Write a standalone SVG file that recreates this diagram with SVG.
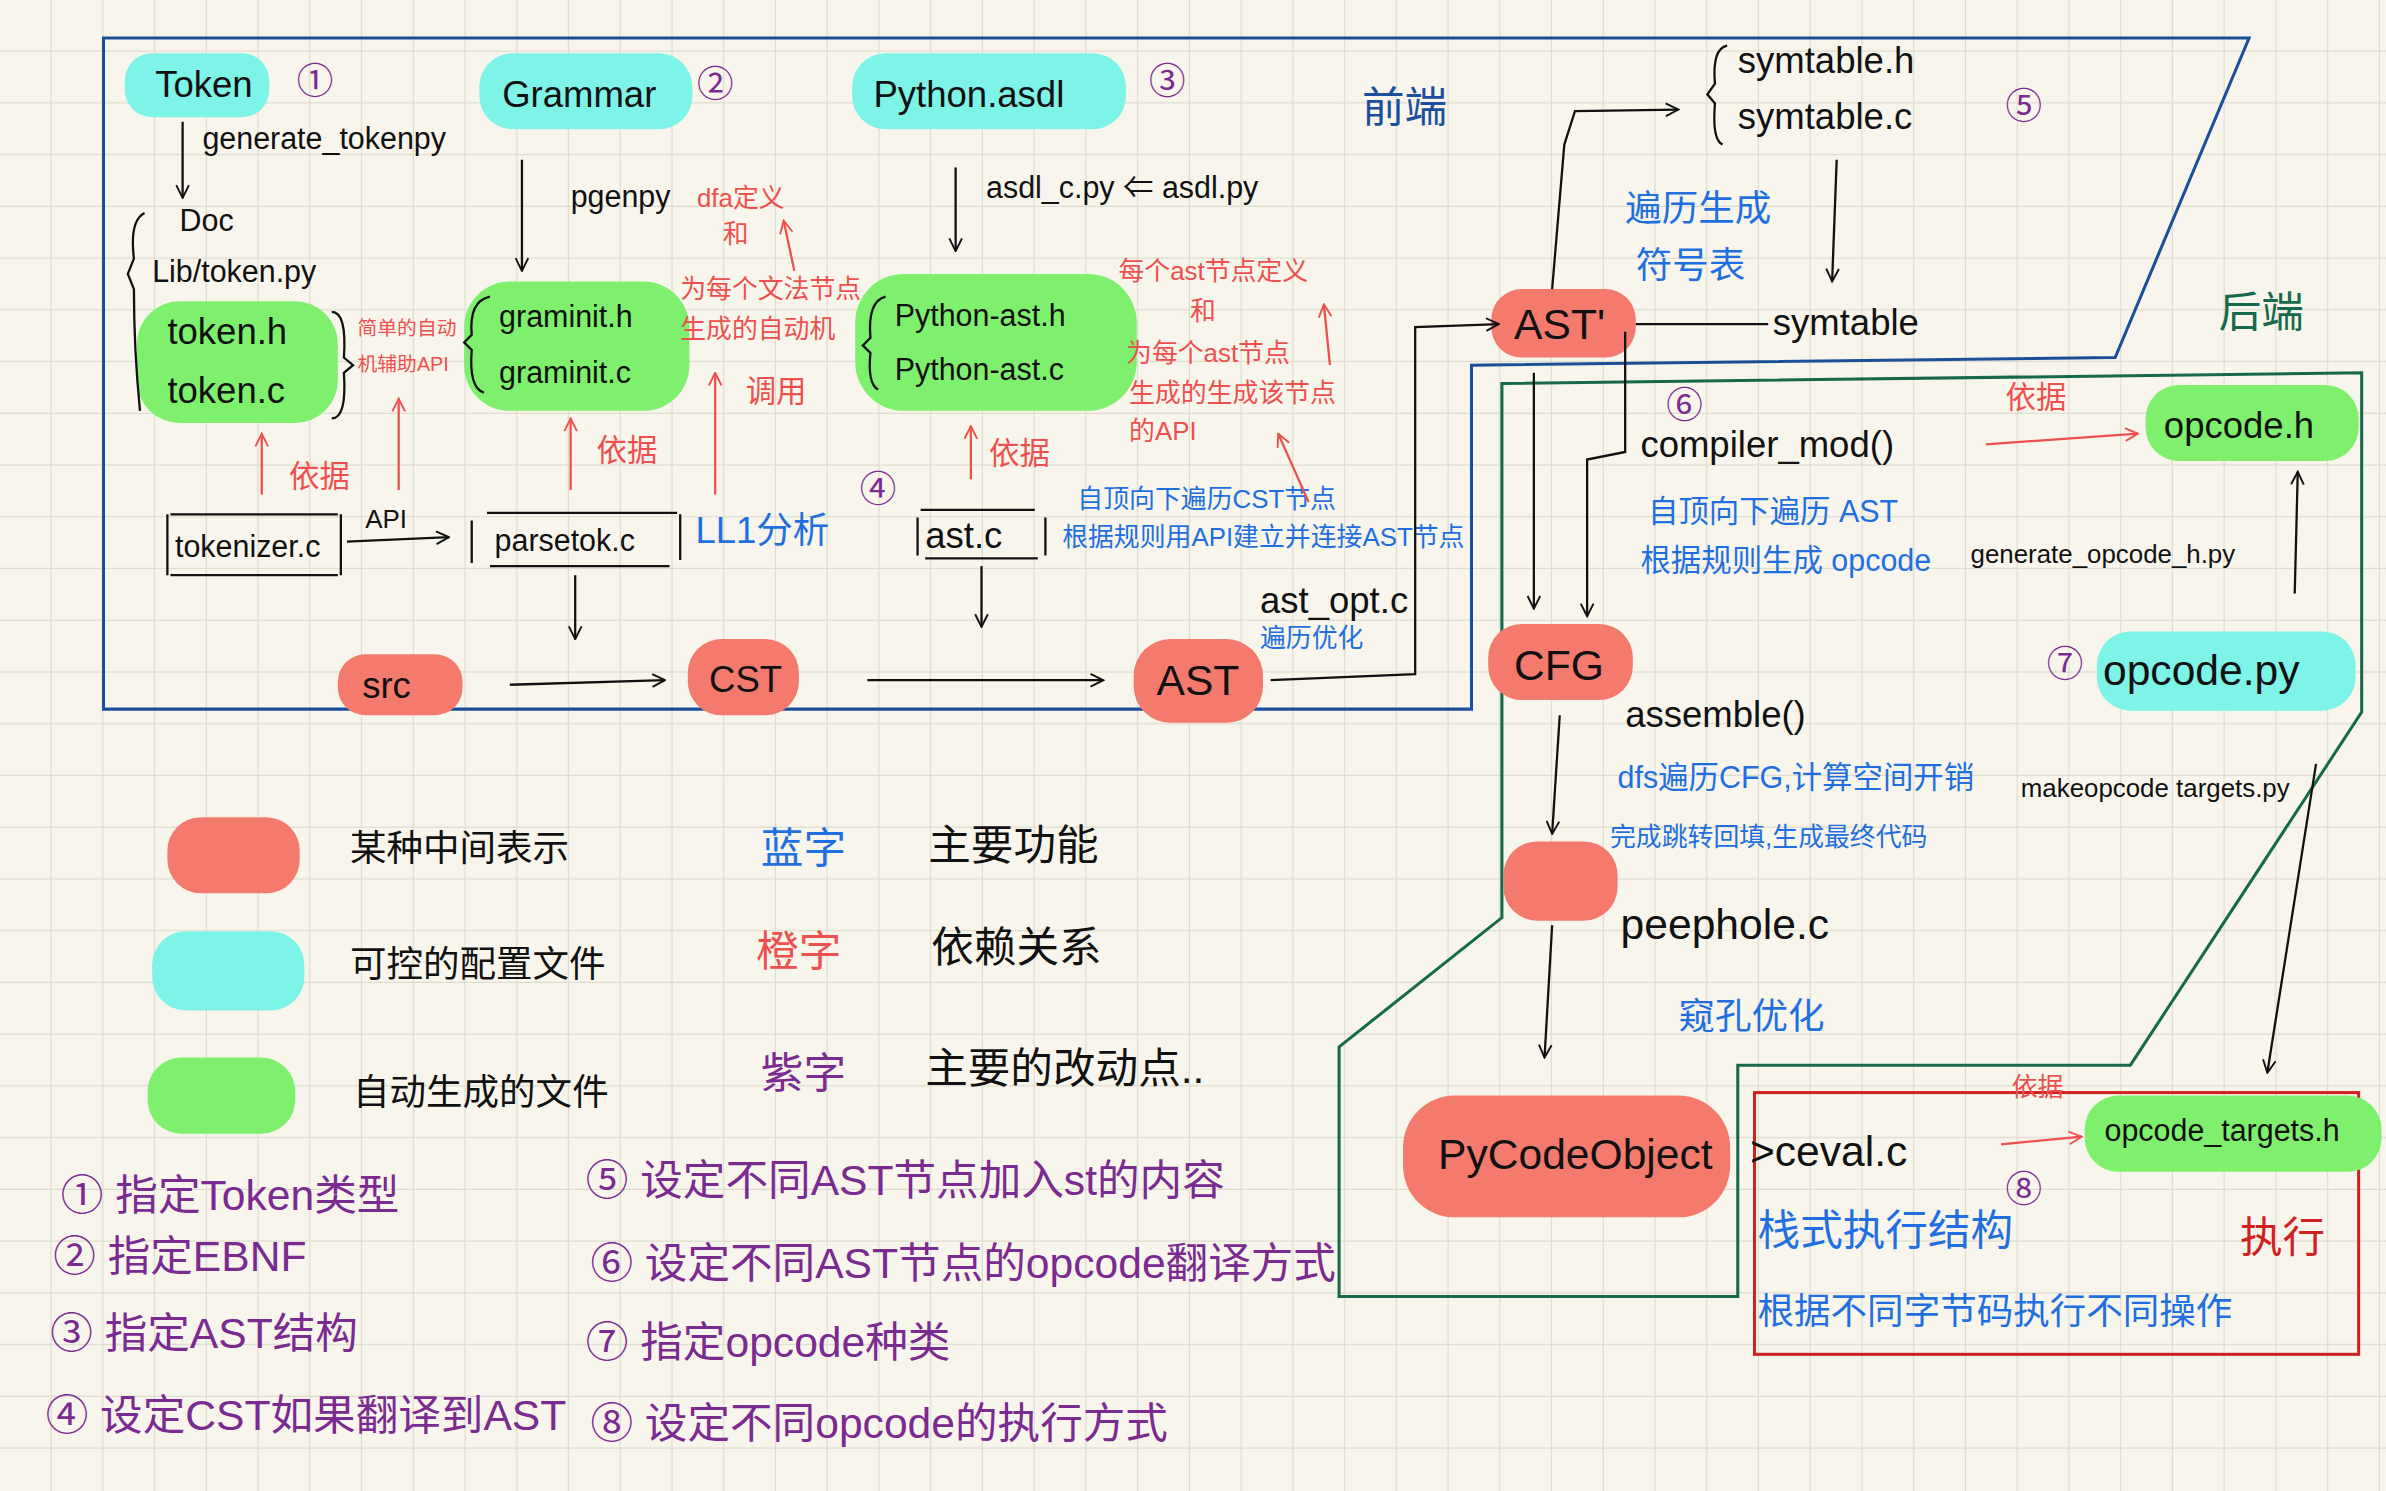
<svg xmlns="http://www.w3.org/2000/svg" width="2386" height="1491" viewBox="0 0 2386 1491">
<defs>
<pattern id="grid" width="34" height="34" patternUnits="userSpaceOnUse"><path d="M34 0V34H0" fill="none" stroke="#dedbd0" stroke-width="1.6"/></pattern>
<marker id="a" viewBox="0 0 12 12" refX="11" refY="6" markerWidth="10" markerHeight="10" orient="auto" markerUnits="userSpaceOnUse"><path d="M1 1L11 6L1 11" fill="none" stroke="#111" stroke-width="1.5"/></marker>
<marker id="r" viewBox="0 0 12 12" refX="11" refY="6" markerWidth="10" markerHeight="10" orient="auto" markerUnits="userSpaceOnUse"><path d="M1 1L11 6L1 11" fill="none" stroke="#ee5050" stroke-width="1.5"/></marker>
</defs>
<style>
text{font-family:"Liberation Sans","Noto Sans CJK SC",sans-serif;font-size:24px;fill:#111}
.x{font-size:13px}.s{font-size:17px}.m{font-size:20px}.l{font-size:28px}
.b{fill:#1f6fe0}.o{fill:#ee5050}.p{fill:#7a2a90}
.red{fill:#f47a6e}.cy{fill:#7ef3e8}.gr{fill:#7ef06e}
.ln{fill:none;stroke:#111;stroke-width:1.5}
.rl{fill:none;stroke:#ee5050;stroke-width:1.5}
</style>
<rect width="2386" height="1491" fill="#f8f6ec"/>
<g transform="scale(1.5217)">
<rect width="1568" height="980" fill="url(#grid)"/>
<g id="regions" fill="none" stroke-width="2">
<path d="M68 25H1478L1390 235L967 240V466H68Z" stroke="#1a4f9c"/>
<path d="M987 252L1552 245V468L1400 700H1142V852H880V688L987 603Z" stroke="#16694a"/>
<rect x="1153" y="718" width="397" height="172" stroke="#d02020"/>
<text x="895" y="80" class="l" style="fill:#1a4f9c">前端</text>
<text x="1458" y="215" class="l" style="fill:#16694a">后端</text>
</g>
<g id="n-token"><rect x="82" y="35" width="95" height="42" rx="18" class="cy"/><text x="102" y="64">Token</text><text x="195" y="62" class="p">①</text></g>
<g id="n-grammar"><rect x="315" y="35" width="140" height="50" rx="22" class="cy"/><text x="330" y="70">Grammar</text><text x="458" y="64" class="p">②</text></g>
<g id="n-asdl"><rect x="560" y="35" width="180" height="50" rx="22" class="cy"/><text x="574" y="70">Python.asdl</text><text x="755" y="62" class="p">③</text></g>
<g id="n-tokenh"><rect x="90" y="198" width="132" height="80" rx="28" class="gr"/><text x="110" y="226">token.h</text><text x="110" y="265">token.c</text><path d="M218 205Q228 205 226 235L232 240L226 245Q228 275 218 275" class="ln"/><path d="M95 140Q85 145 88 170L84 180L88 190Q88 230 92 270" class="ln"/><text x="118" y="152" class="m">Doc</text><text x="100" y="185" class="m">Lib/token.py</text><text x="133" y="98" class="m">generate_tokenpy</text>
<text x="235" y="220" class="x o">简单的自动</text><text x="235" y="244" class="x o">机辅助API</text></g>
<g id="n-graminit"><rect x="305" y="185" width="148" height="85" rx="30" class="gr"/><text x="328" y="215" class="m">graminit.h</text><text x="328" y="252" class="m">graminit.c</text><path d="M322 195Q308 198 310 220L305 225L310 230Q308 255 318 258" class="ln"/>
<text x="375" y="136" class="m">pgenpy</text><text x="458" y="136" class="s o">dfa定义</text><text x="475" y="160" class="s o">和</text><text x="447" y="196" class="s o">为每个文法节点</text><text x="447" y="222" class="s o">生成的自动机</text><text x="490" y="264" class="m o">调用</text></g>
<g id="n-pyast"><rect x="562" y="180" width="185" height="90" rx="32" class="gr"/><text x="588" y="214" class="m">Python-ast.h</text><text x="588" y="250" class="m">Python-ast.c</text><path d="M582 195Q570 198 572 222L567 227L572 232Q570 252 577 256" class="ln"/>
<text x="648" y="130" class="m">asdl_c.py ⇐ asdl.py</text>
<text x="735" y="184" class="s o">每个ast节点定义</text><text x="782" y="210" class="s o">和</text><text x="740" y="238" class="s o">为每个ast节点</text><text x="742" y="264" class="s o">生成的生成该节点</text><text x="742" y="289" class="s o">的API</text>
<text x="565" y="330" class="p">④</text><text x="708" y="334" class="s b">自顶向下遍历CST节点</text><text x="698" y="359" class="s b">根据规则用API建立并连接AST节点</text></g>
<g id="n-tokenizer"><path d="M112 338H222M112 378H222M110 338V378M224 338V378" class="ln"/><text x="115" y="366" class="m">tokenizer.c</text><text x="240" y="347" class="s">API</text><text x="190" y="320" class="m o">依据</text></g>
<g id="n-parsetok"><path d="M320 337H445M322 372H440M310 342V370M447 338V368" class="ln"/><text x="325" y="362" class="m">parsetok.c</text><text x="457" y="357" class="b">LL1分析</text><text x="392" y="303" class="m o">依据</text></g>
<g id="n-astc"><path d="M605 335H680M608 367H682M603 340V365M687 340V365" class="ln"/><text x="608" y="360">ast.c</text><text x="650" y="305" class="m o">依据</text></g>
<g id="n-src"><rect x="222" y="430" width="82" height="40" rx="18" class="red"/><text x="238" y="459">src</text></g>
<g id="n-cst"><rect x="452" y="420" width="73" height="50" rx="22" class="red"/><text x="466" y="455">CST</text></g>
<g id="n-ast"><rect x="745" y="420" width="85" height="55" rx="24" class="red"/><text x="760" y="457" class="l">AST</text><text x="828" y="403">ast_opt.c</text><text x="828" y="425" class="s b">遍历优化</text></g>
<g id="n-ast2"><rect x="980" y="190" width="95" height="45" rx="20" class="red"/><text x="995" y="223" class="l">AST'</text></g>
<g id="n-symtab"><path d="M1135 30Q1125 32 1127 55L1122 62L1127 68Q1125 92 1132 95" class="ln"/><text x="1142" y="48">symtable.h</text><text x="1142" y="85">symtable.c</text><text x="1318" y="78" class="p">⑤</text><text x="1165" y="220">symtable</text><text x="1068" y="145" class="b">遍历生成</text><text x="1075" y="183" class="b">符号表</text></g>
<g id="n-cfg"><rect x="978" y="410" width="95" height="50" rx="22" class="red"/><text x="995" y="447" class="l">CFG</text>
<text x="1095" y="275" class="p">⑥</text><text x="1078" y="300">compiler_mod()</text><text x="1083" y="343" class="m b">自顶向下遍历 AST</text><text x="1078" y="375" class="m b">根据规则生成 opcode</text><text x="1318" y="268" class="m o">依据</text>
<text x="1068" y="478">assemble()</text><text x="1063" y="518" class="m b">dfs遍历CFG,计算空间开销</text><text x="1058" y="556" class="s b">完成跳转回填,生成最终代码</text></g>
<g id="n-bytecode"><rect x="988" y="553" width="75" height="52" rx="22" class="red"/><text x="1065" y="617" class="l">peephole.c</text><text x="1103" y="676" class="b">窥孔优化</text></g>
<g id="n-opcodeh"><rect x="1410" y="253" width="140" height="50" rx="22" class="gr"/><text x="1422" y="288">opcode.h</text><text x="1295" y="370" class="s">generate_opcode_h.py</text></g>
<g id="n-opcodepy"><rect x="1378" y="415" width="170" height="52" rx="22" class="cy"/><text x="1382" y="450" class="l">opcode.py</text><text x="1345" y="445" class="p">⑦</text><text x="1328" y="524" class="s">makeopcode targets.py</text></g>
<g id="n-pycode"><rect x="922" y="720" width="215" height="80" rx="34" class="red"/><text x="945" y="768" class="l">PyCodeObject</text></g>
<g id="n-ceval"><text x="1150" y="766" class="l">&gt;ceval.c</text><text x="1318" y="790" class="p">⑧</text><text x="1155" y="818" class="l b">栈式执行结构</text><text x="1155" y="870" class="b">根据不同字节码执行不同操作</text><text x="1472" y="823" class="l" style="fill:#d02020">执行</text><text x="1322" y="720" class="s o">依据</text></g>
<g id="n-targets"><rect x="1370" y="720" width="195" height="50" rx="22" class="gr"/><text x="1383" y="750" class="m">opcode_targets.h</text></g>
<g id="legend">
<rect x="110" y="537" width="87" height="50" rx="22" class="red"/><text x="230" y="566">某种中间表示</text>
<rect x="100" y="612" width="100" height="52" rx="22" class="cy"/><text x="230" y="642">可控的配置文件</text>
<rect x="97" y="695" width="97" height="50" rx="22" class="gr"/><text x="232" y="726">自动生成的文件</text>
<text x="500" y="567" class="l b">蓝字</text><text x="610" y="565" class="l">主要功能</text>
<text x="497" y="635" class="l o">橙字</text><text x="612" y="632" class="l">依赖关系</text>
<text x="500" y="715" class="l p">紫字</text><text x="608" y="712" class="l">主要的改动点..</text>
<text x="40" y="795" class="l p">① 指定Token类型</text><text x="35" y="835" class="l p">② 指定EBNF</text><text x="33" y="886" class="l p">③ 指定AST结构</text><text x="30" y="940" class="l p">④ 设定CST如果翻译到AST</text>
<text x="385" y="785" class="l p">⑤ 设定不同AST节点加入st的内容</text><text x="388" y="840" class="l p">⑥ 设定不同AST节点的opcode翻译方式</text><text x="385" y="892" class="l p">⑦ 指定opcode种类</text><text x="388" y="945" class="l p">⑧ 设定不同opcode的执行方式</text>
</g>
<g id="connectors">
<path d="M120 80V130" class="ln" marker-end="url(#a)"/>
<path d="M343 105V178" class="ln" marker-end="url(#a)"/>
<path d="M628 110V165" class="ln" marker-end="url(#a)"/>
<path d="M228 356L295 353" class="ln" marker-end="url(#a)"/>
<path d="M378 378V420" class="ln" marker-end="url(#a)"/>
<path d="M645 372V412" class="ln" marker-end="url(#a)"/>
<path d="M335 450L437 447" class="ln" marker-end="url(#a)"/>
<path d="M570 447L725 447" class="ln" marker-end="url(#a)"/>
<path d="M835 447L930 443V215L985 213" class="ln" marker-end="url(#a)"/>
<path d="M1020 190L1028 95L1035 73L1103 72" class="ln" marker-end="url(#a)"/>
<path d="M1207 105L1204 185" class="ln" marker-end="url(#a)"/>
<path d="M1075 213H1162" class="ln"/>
<path d="M1008 245V400" class="ln" marker-end="url(#a)"/>
<path d="M1068 218V297L1043 302V405" class="ln" marker-end="url(#a)"/>
<path d="M1025 470L1020 548" class="ln" marker-end="url(#a)"/>
<path d="M1020 608L1015 695" class="ln" marker-end="url(#a)"/>
<path d="M1508 390L1510 310" class="ln" marker-end="url(#a)"/>
<path d="M1522 502L1490 705" class="ln" marker-end="url(#a)"/>
<path d="M172 325V285" class="rl" marker-end="url(#r)"/>
<path d="M262 322V262" class="rl" marker-end="url(#r)"/>
<path d="M375 322V275" class="rl" marker-end="url(#r)"/>
<path d="M470 325V245" class="rl" marker-end="url(#r)"/>
<path d="M522 178L515 145" class="rl" marker-end="url(#r)"/>
<path d="M638 315V280" class="rl" marker-end="url(#r)"/>
<path d="M874 240L870 200" class="rl" marker-end="url(#r)"/>
<path d="M860 330L840 285" class="rl" marker-end="url(#r)"/>
<path d="M1305 292L1405 285" class="rl" marker-end="url(#r)"/>
<path d="M1315 752L1368 747" class="rl" marker-end="url(#r)"/>
</g>
</g>
</svg>
